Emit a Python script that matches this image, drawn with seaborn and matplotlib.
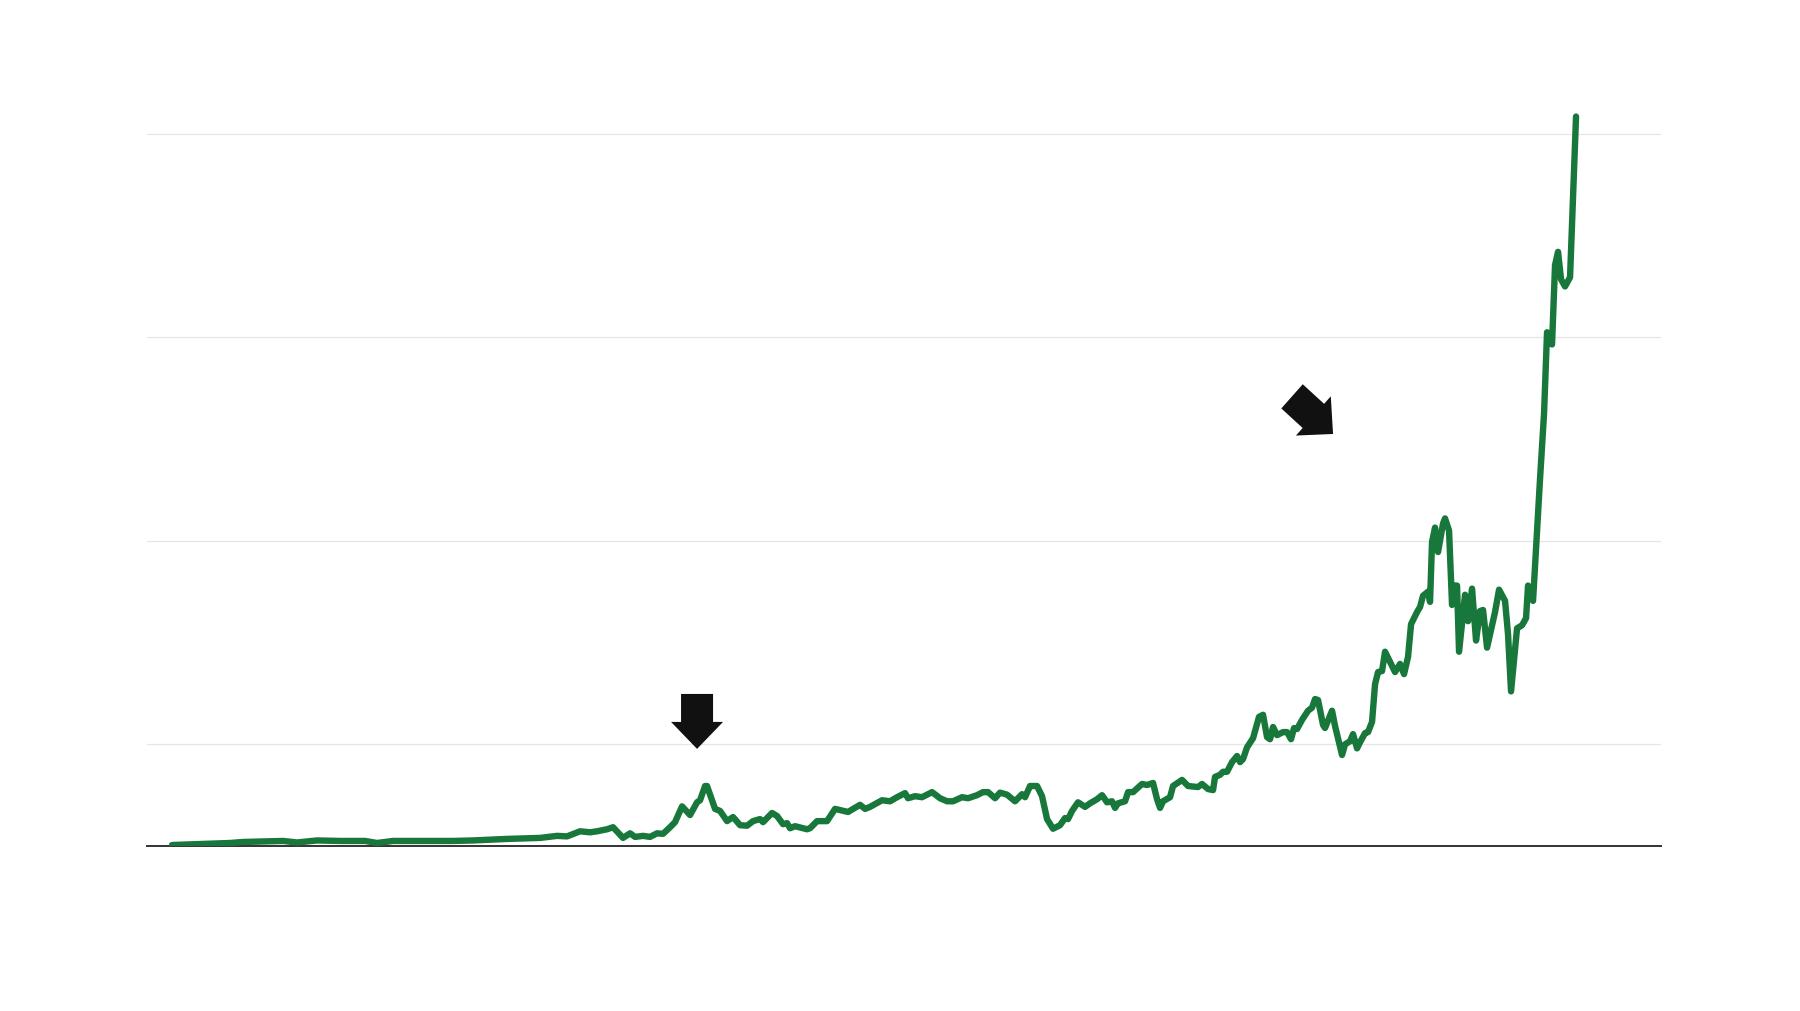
import numpy as np
import pandas as pd
import matplotlib
matplotlib.use("Agg")
import matplotlib.pyplot as plt
from matplotlib.patches import FancyArrow
import seaborn as sns

# time steps (arbitrary index) and series values
t = [0, 28, 58, 71, 93, 111, 125, 145, 168, 193, 205, 221, 248, 281, 301,
     335, 368, 385, 395, 408, 418, 425, 435, 441, 451, 458, 463, 471, 478, 485,
     491, 498, 503, 510, 518, 525, 528, 533, 535, 543, 548, 555, 561, 568, 575,
     581, 588, 591, 600, 605, 611, 615, 618, 623, 635, 638, 645, 655, 663, 676,
     681, 688, 693, 698, 710, 718, 725, 733, 736, 743, 750, 760, 768, 775, 781,
     790, 796, 805, 811, 816, 823, 828, 835, 843, 850, 853, 858, 865, 870, 875,
     881, 888, 893, 896, 900, 906, 913, 918, 925, 930, 935, 940, 943, 946, 953,
     956, 961, 970, 975, 981, 985, 988, 991, 998, 1001, 1010, 1016, 1026, 1030, 1036,
     1041, 1043, 1048, 1051, 1055, 1060, 1065, 1068, 1071, 1075, 1081, 1087, 1091, 1095, 1098,
     1101, 1105, 1111, 1115, 1119, 1122, 1125, 1130, 1136, 1140, 1143, 1146, 1151, 1153, 1160,
     1163, 1170, 1173, 1178, 1181, 1185, 1188, 1193, 1196, 1200, 1203, 1206, 1210, 1213, 1218,
     1223, 1228, 1232, 1236, 1239, 1245, 1248, 1251, 1256, 1258, 1260, 1263, 1266, 1271, 1273,
     1277, 1280, 1282, 1285, 1287, 1293, 1296, 1300, 1304, 1308, 1311, 1315, 1323, 1327, 1333,
     1336, 1339, 1343, 1345, 1350, 1354, 1356, 1361, 1368, 1372, 1375, 1380, 1383, 1386, 1389,
     1393, 1398, 1404]
values = [1, 2, 3, 4, 4.5, 5, 3.5, 5.5, 5, 5, 3, 5, 5, 5, 5.5,
          7, 8, 10, 9.5, 14.5, 13.5, 14.5, 16.5, 18.5, 8, 12.5, 9, 10, 9, 12.5,
          12, 18.5, 23.5, 39, 30.5, 43, 45, 59, 59, 36.5, 34.5, 24.5, 28.5, 20.5, 20,
          24.5, 26.5, 23.5, 32.5, 29.5, 21.5, 22.5, 17.5, 19.5, 16.5, 17.5, 24.5, 24.5, 36.5, 33.5,
          36.5, 40.5, 36.5, 38.5, 45, 44, 48, 52, 47, 49, 48, 53, 47, 44, 44,
          48, 47, 50, 53, 53, 47, 52.5, 50.5, 44, 51, 48, 59, 59, 49, 26.5,
          17, 20.5, 27.5, 26.5, 34.5, 43, 38.5, 42, 46, 50, 43, 44, 37.5, 42, 44,
          53, 53, 61, 60, 62, 46, 37.5, 44, 48, 59, 65, 59, 58, 61, 56,
          55, 68, 70, 73, 73, 82.5, 88.5, 82.5, 85.5, 97, 106, 127, 129, 107, 105,
          117, 109, 112, 112, 105, 116, 115, 124, 133, 136, 144.5, 143.5, 119, 116, 133,
          118, 89.5, 100, 103, 110, 96, 102, 111, 112, 122, 159, 171, 172, 191, 181,
          171, 179, 169, 186, 218, 230, 235, 246, 250, 240, 299, 313, 289, 317, 322,
          310, 237, 256, 256, 191, 247, 221, 253, 202, 231, 232, 195, 230, 252, 241,
          208, 152, 193, 214, 217, 224, 256, 241, 361, 425, 505, 493, 571, 584, 557,
          550, 559, 717]
grid_values = [100, 300, 500, 700]

df = pd.DataFrame({"t": t, "value": values})

sns.set_style("white")
fig = plt.figure(figsize=(18, 10.12), dpi=100)
ax = fig.add_axes([0.0817, 0.163, 0.8411, 0.8043])

sns.lineplot(data=df, x="t", y="value", ax=ax, color="#18773a", linewidth=4.6,
             estimator=None, sort=False, zorder=3,
             solid_capstyle="round", solid_joinstyle="round")

ax.set_xlim(-25, 1489)
ax.set_ylim(0, 800)
ax.set_yticks(grid_values)
ax.set_xticks([])
ax.yaxis.grid(True, color="#e6e6e6", linewidth=0.9)
ax.tick_params(left=False, bottom=False, labelleft=False, labelbottom=False)
ax.set_xlabel("")
ax.set_ylabel("")
for side in ["top", "left", "right"]:
    ax.spines[side].set_visible(False)
ax.spines["bottom"].set_color("#333333")
ax.spines["bottom"].set_linewidth(1.4)

# the two black pointer arrows
for x0, y0, dx, dy in [(525, 149.5, 0, -54), (1120, 442, 41, -37)]:
    ax.add_patch(FancyArrow(x0, y0, dx, dy, width=32, head_width=52,
                            head_length=26.5, length_includes_head=True,
                            color="#111111", linewidth=0, zorder=4))

fig.savefig("out.png", dpi=100, facecolor="white")
